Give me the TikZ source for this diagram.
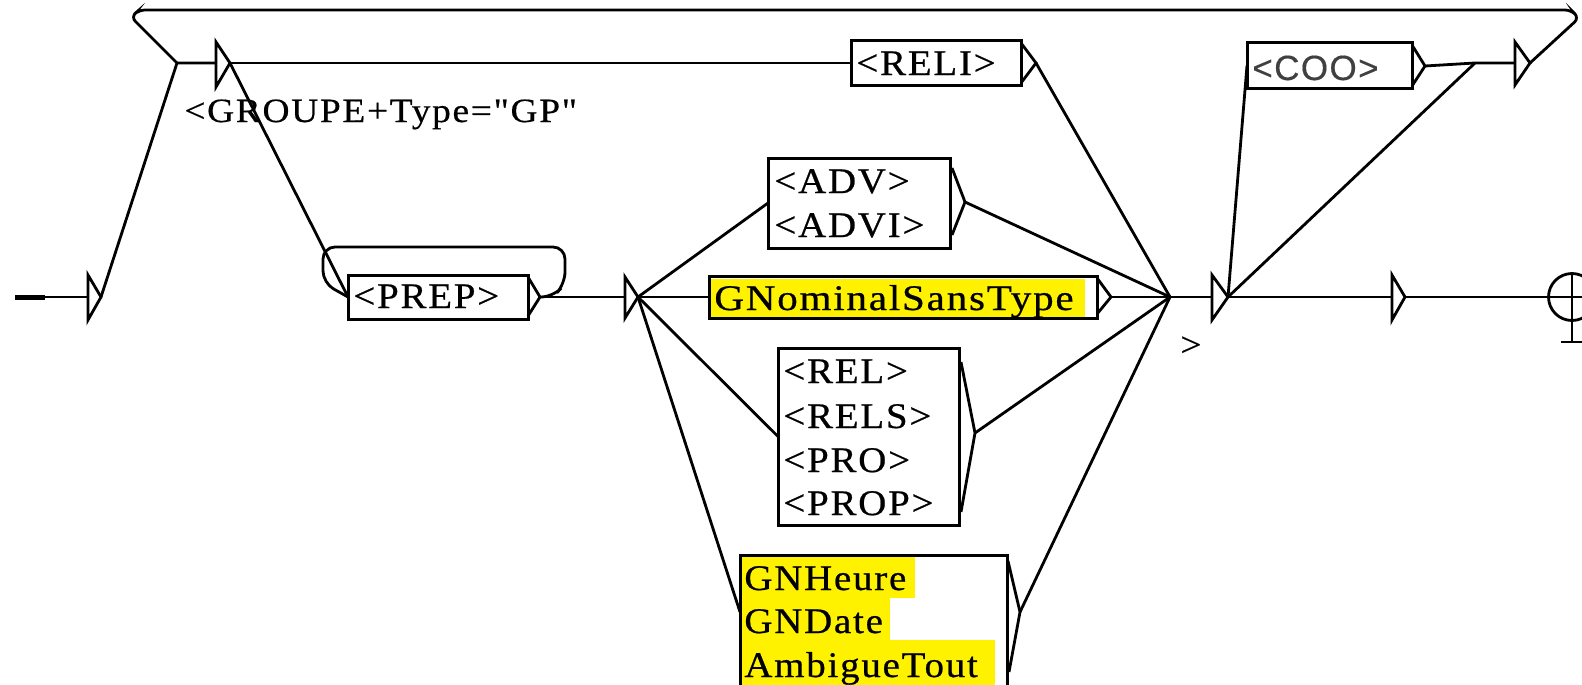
\documentclass[tikz,border=0pt]{standalone}
\usepackage{fontspec}
\setmainfont{Liberation Serif}
\newfontfamily\boxfont[FakeStretch=1.08,LetterSpace=5,FakeBold=0.6]{Liberation Serif}
\newfontfamily\outfont[FakeStretch=1.1,LetterSpace=5,FakeBold=0.5]{Liberation Serif}
\newfontfamily\coofont[LetterSpace=4,FakeBold=0.4]{Liberation Sans}
\begin{document}
\begin{tikzpicture}[x=1pt,y=-1pt,line width=2.8pt,
  gbox/.style={draw,line width=3pt,anchor=north west,inner sep=0pt,outer sep=0pt},
  lbl/.style={anchor=base west,inner sep=0pt,font=\boxfont\fontsize{36}{42}\selectfont},
  outlbl/.style={anchor=base west,inner sep=0pt,font=\outfont\fontsize{34}{40}\selectfont},
  wire/.style={line width=2.8pt},
  tri/.style={line width=2.8pt,line join=miter}]
\useasboundingbox (0,0) rectangle (1582,685);
\clip (0,0) rectangle (1582,685);
\fill[white] (0,0) rectangle (1582,685);

% named points
\coordinate (entry) at (15,297);
\coordinate (entryB) at (45,297);
\coordinate (iIn) at (88,297);
\coordinate (iA) at (101,297);
\coordinate (L) at (177,63);
\coordinate (gIn) at (216,63);
\coordinate (gA) at (230,63);
\coordinate (t1In) at (625,297);
\coordinate (t1A) at (638,297);
\coordinate (J) at (1170,297);
\coordinate (t2In) at (1212,297);
\coordinate (t2A) at (1228,297);
\coordinate (K) at (1475,63);
\coordinate (t4In) at (1515,63);
\coordinate (t4A) at (1530,63);
\coordinate (t3In) at (1392,297);
\coordinate (t3A) at (1405,297);
\coordinate (fin) at (1572,297);
\coordinate (finR) at (1585,297);
\coordinate (reliA) at (1036,63);
\coordinate (prepA) at (540,297);
\coordinate (advA) at (965,202);
\coordinate (gnomA) at (1111,297);
\coordinate (relA) at (975,433);
\coordinate (gnhA) at (1020,612);
\coordinate (gnhIn) at (740,612);
\coordinate (cooA) at (1425,66);

% yellow highlights
\fill[yellow] (709,279) rectangle (1085,318);
\fill[yellow] (741,557) rectangle (915,598);
\fill[yellow] (741,598) rectangle (890,640);
\fill[yellow] (741,640) rectangle (995,690);

% boxes
\node[gbox,minimum width=170pt,minimum height=44pt] (reli) at (851,41) {};
\node[gbox,minimum width=180pt,minimum height=44pt] (prep) at (348,275) {};
\node[gbox,minimum width=182pt,minimum height=90pt] (adv) at (768,158) {};
\node[gbox,minimum width=388pt,minimum height=42pt] (gnom) at (709,276) {};
\node[gbox,minimum width=181pt,minimum height=177pt] (rel) at (778,348) {};
\node[gbox,minimum width=267pt,minimum height=150pt] (gnh) at (740,555) {};
\node[gbox,minimum width=165pt,minimum height=45pt] (coo) at (1247,43) {};

% chevrons (box outputs)
\draw[tri] (1021,43) -- (reliA) -- (1021,83);
\draw[tri] (528,277) -- (prepA) -- (528,316);
\draw[tri] (952,168) -- (advA) -- (952,235);
\draw[tri] (1097,278) -- (gnomA) -- (1097,314);
\draw[tri] (961,362) -- (relA) -- (961,512);
\draw[tri] (1008,561) -- (gnhA) -- (1009,672);
\draw[tri] (1412,45) -- (cooA) -- (1412,86);

% triangles (empty boxes)
\draw[tri] (88,275) -- (iA) -- (88,320) -- cycle;
\draw[tri] (216,42) -- (gA) -- (216,87) -- cycle;
\draw[tri] (625,277) -- (t1A) -- (625,318) -- cycle;
\draw[tri] (1212,275) -- (t2A) -- (1212,320) -- cycle;
\draw[tri] (1392,275) -- (t3A) -- (1392,320) -- cycle;
\draw[tri] (1515,42) -- (t4A) -- (1515,85) -- cycle;

% texts
\node[lbl] (reliT) at (855,75) {<RELI>};
\node[lbl] (prepT) at (352,308) {<PREP>};
\node[lbl] (advT1) at (773,193) {<ADV>};
\node[lbl] (advT2) at (773,237) {<ADVI>};
\node[lbl,font=\boxfont\fontsize{36}{42}\selectfont\addfontfeature{FakeStretch=1.14}] (gnomT) at (713,310) {GNominalSansType};
\node[lbl] (relT1) at (782,383) {<REL>};
\node[lbl] (relT2) at (782,428) {<RELS>};
\node[lbl] (relT3) at (782,472) {<PRO>};
\node[lbl] (relT4) at (782,515) {<PROP>};
\node[lbl] (gnhT1) at (743,590) {GNHeure};
\node[lbl] (gnhT2) at (743,633) {GNDate};
\node[lbl] (gnhT3) at (743,677) {AmbigueTout};
\node[anchor=base west,inner sep=0pt,text=black!75,font=\coofont\fontsize{35}{40}\selectfont] (cooT) at (1251,80) {<COO>};
\node[outlbl] (grpT) at (183,122) {<GROUPE+Type="GP"};
\node[outlbl] (outT) at (1179,356) {>};

% connectors
\draw[line width=5pt] (entry) -- (entryB);
\draw[wire] (entryB) -- (iIn);
\draw[wire] (iA) -- (L) -- (gIn);
\draw[wire,rounded corners=6pt] (t4A) -- (1579,18) -- (1571,10) -- (139,10) -- (131,17) -- (L);
\draw[wire] (gA) -- (reli.west);
\draw[wire] (gA) -- (prep.west);
\draw[wire,rounded corners=12pt] (prepA) -- (553,297) -- (565,284) -- (565,247) -- (323,247) -- (323,283) -- (prep.west);
\draw[wire] (prepA) -- (t1In);
\draw[wire] (t1A) -- (adv.west);
\draw[wire] (t1A) -- (gnom.west);
\draw[wire] (t1A) -- (rel.west);
\draw[wire] (t1A) -- (gnhIn);
\draw[wire] (reliA) -- (J);
\draw[wire] (advA) -- (J);
\draw[wire] (gnomA) -- (J);
\draw[wire] (relA) -- (J);
\draw[wire] (gnhA) -- (J);
\draw[wire] (J) -- (t2In);
\draw[wire] (t2A) -- (coo.west);
\draw[wire] (t2A) -- (K);
\draw[wire] (cooA) -- (K) -- (t4In);
\draw[wire] (t2A) -- (t3In);
\draw[wire] (t3A) -- (finR);

% final state
\draw[wire] (fin) circle (23.5);
\draw[wire] (1572,273) -- (1572,342);
\draw[wire] (1561,342) -- (1584,342);
\end{tikzpicture}
\end{document}
